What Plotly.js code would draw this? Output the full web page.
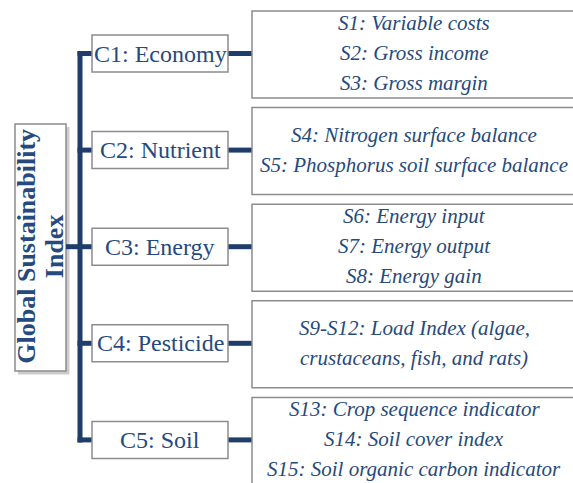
<!DOCTYPE html>
<html><head><meta charset="utf-8">
<script src="https://cdn.plot.ly/plotly-3.0.1.min.js"></script>
<style>html,body{margin:0;padding:0;background:#fff;}#chart{width:573px;height:483px;}</style>
</head><body><div id="chart"></div>
<script>
// Diagram content
const rootLines = ["Global Sustainability", "Index"];
const criteria = ["C1: Economy", "C2: Nutrient", "C3: Energy", "C4: Pesticide", "C5: Soil"];
const subIndicators = [
  ["S1: Variable costs", "S2: Gross income", "S3: Gross margin"],
  ["S4: Nitrogen surface balance", "S5: Phosphorus soil surface balance"],
  ["S6: Energy input", "S7: Energy output", "S8: Energy gain"],
  ["S9-S12: Load Index (algae,", "crustaceans, fish, and rats)"],
  ["S13: Crop sequence indicator", "S14: Soil cover index", "S15: Soil organic carbon indicator"]
];

// Layout constants (pixels)
const navy = "#1f3d6b", txt = "#264a7d", border = "#8c8c8c";
const serif = "Liberation Serif, Times New Roman, serif";
const cTop0 = 35, cStep = 96.6, cH = 37, cX0 = 92, cX1 = 228;
const sTop0 = 11, sH = 87, sX0 = 252, sX1 = 580;
const lineGap = 30;
const trunkX = 80;

const shapes = [], annotations = [];
// root box shadow + box
shapes.push({type:"rect", x0:18, x1:69.5, y0:127, y1:374.5, fillcolor:"rgba(0,0,0,0.2)", line:{width:0}, layer:"below"});
shapes.push({type:"rect", x0:15, x1:66, y0:124, y1:371, fillcolor:"#fff", line:{color:border, width:1.5}});
const rootY = cTop0 + 2*cStep + cH/2;
rootLines.forEach((t,i)=>annotations.push({x:27+i*27.5, y:rootY, xref:"x", yref:"y", text:"<b>"+t+"</b>", textangle:-90, showarrow:false, font:{family:serif, size:26, color:txt}, xanchor:"center", yanchor:"middle"}));
// stub from root to trunk
shapes.push({type:"line", x0:66, x1:trunkX, y0:rootY, y1:rootY, line:{color:navy, width:5}});
// trunk
const c1y = cTop0 + cH/2, c5y = cTop0 + 4*cStep + cH/2;
shapes.push({type:"line", x0:trunkX, x1:trunkX, y0:c1y-2.5, y1:c5y+2.5, line:{color:navy, width:5}});

criteria.forEach((c,i)=>{
  const top = cTop0 + i*cStep, cy = top + cH/2;
  shapes.push({type:"line", x0:trunkX-2.5, x1:cX0, y0:cy, y1:cy, line:{color:navy, width:5}});
  shapes.push({type:"line", x0:cX1, x1:sX0, y0:cy, y1:cy, line:{color:navy, width:5}});
  shapes.push({type:"rect", x0:cX0, x1:cX1, y0:top, y1:top+cH, fillcolor:"#fff", line:{color:border, width:1.5}});
  annotations.push({x:(cX0+cX1)/2, y:cy, xref:"x", yref:"y", text:c, showarrow:false, font:{family:serif, size:24, color:txt}, xanchor:"center", yanchor:"middle"});
  const sTop = sTop0 + i*cStep;
  shapes.push({type:"rect", x0:sX0, x1:sX1, y0:sTop, y1:sTop+sH, fillcolor:"#fff", line:{color:border, width:1.5}});
  const lines = subIndicators[i], n = lines.length;
  const sc = sTop + sH/2 - 1.5;
  lines.forEach((t,j)=>{
    annotations.push({x:414, y:sc + (j-(n-1)/2)*lineGap, xref:"x", yref:"y", text:"<i>"+t+"</i>", showarrow:false, font:{family:serif, size:21, color:txt}, xanchor:"center", yanchor:"middle"});
  });
});

const layout = {
  width:573, height:483, margin:{l:0,r:0,t:0,b:0},
  paper_bgcolor:"#fff", plot_bgcolor:"#fff",
  xaxis:{range:[0,573], visible:false, fixedrange:true},
  yaxis:{range:[483,0], visible:false, fixedrange:true},
  shapes, annotations, showlegend:false
};
Plotly.newPlot("chart", [{x:[], y:[], type:"scatter"}], layout, {staticPlot:true, displayModeBar:false});
</script></body></html>
